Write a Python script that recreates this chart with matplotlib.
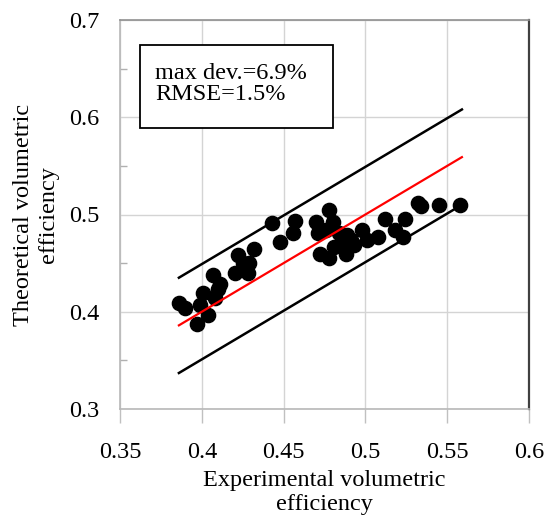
import matplotlib
matplotlib.use("Agg")
import matplotlib.pyplot as plt
import numpy as np

plt.rcParams['font.family'] = ['Liberation Serif', 'DejaVu Serif']

# experimental vs theoretical volumetric efficiency
x_exp = [0.386, 0.390, 0.397, 0.399, 0.401, 0.404, 0.407, 0.408, 0.410, 0.411,
         0.420, 0.422, 0.425, 0.428, 0.429, 0.432, 0.443, 0.448, 0.456, 0.457,
         0.470, 0.471, 0.472, 0.476, 0.478, 0.478, 0.480, 0.481, 0.484, 0.486,
         0.488, 0.489, 0.491, 0.493, 0.498, 0.501, 0.508, 0.512, 0.518, 0.524,
         0.523, 0.532, 0.534, 0.545, 0.558]
y_theo = [0.409, 0.404, 0.387, 0.407, 0.419, 0.397, 0.438, 0.414, 0.423, 0.429,
          0.440, 0.458, 0.450, 0.440, 0.450, 0.465, 0.491, 0.472, 0.481, 0.493,
          0.492, 0.481, 0.459, 0.484, 0.505, 0.455, 0.492, 0.467, 0.481, 0.470,
          0.459, 0.479, 0.474, 0.469, 0.484, 0.474, 0.477, 0.495, 0.484, 0.495,
          0.477, 0.512, 0.509, 0.510, 0.510]

line_x = [0.386, 0.559]
band = 0.049

fs = 17.5

fig = plt.figure(figsize=(5.44, 5.2), dpi=100)
ax = fig.add_axes([0.2206, 0.2135, 0.7518, 0.748])

ax.scatter(x_exp, y_theo, s=105, color='black', zorder=3)
lx = np.array(line_x)
ax.plot(lx, lx, color='red', lw=1.6, zorder=4)
ax.plot(lx, lx + band, color='black', lw=1.8, zorder=2)
ax.plot(lx, lx - band, color='black', lw=1.8, zorder=2)

ax.set_xlim(0.35, 0.6)
ax.set_ylim(0.3, 0.7)
ax.set_xticks([0.35, 0.4, 0.45, 0.5, 0.55, 0.6])
ax.set_xticklabels(['0.35', '0.4', '0.45', '0.5', '0.55', '0.6'])
ax.set_yticks([0.3, 0.4, 0.5, 0.6, 0.7])
ax.set_yticklabels(['0.3', '0.4', '0.5', '0.6', '0.7'])
ax.set_yticks([0.35, 0.45, 0.55, 0.65], minor=True)

ax.grid(True, which='major', color='#d4d4d4', lw=1.0, zorder=0)
ax.set_axisbelow(True)
ax.tick_params(axis='x', which='major', direction='out', length=10, width=1,
               color='#c0c0c0', pad=14, labelsize=fs)
ax.tick_params(axis='y', which='major', length=0, pad=15, labelsize=fs)
ax.tick_params(axis='y', which='minor', direction='in', length=5, width=1,
               color='#b0b0b0')

for side in ['left', 'bottom']:
    ax.spines[side].set_color('#b8b8b8')
    ax.spines[side].set_linewidth(1.2)
ax.spines['top'].set_color('#909090')
ax.spines['top'].set_linewidth(1.2)
ax.spines['right'].set_color('#404040')
ax.spines['right'].set_linewidth(1.6)

ax.set_xlabel("Experimental volumetric\nefficiency", fontsize=fs, labelpad=5,
              linespacing=1.2)
ax.set_ylabel("Theoretical volumetric\nefficiency", fontsize=fs, labelpad=7,
              linespacing=1.25)

ax.text(0.086, 0.835, "max dev.=6.9%\nRMSE=1.5%", transform=ax.transAxes,
        fontsize=fs, va='center', ha='left', linespacing=1.0, zorder=5)
box = plt.Rectangle((0.049, 0.722), 0.471, 0.214, transform=ax.transAxes,
                    fill=True, fc='white', ec='black', lw=1.3, zorder=4)
ax.add_patch(box)

fig.savefig("out.png", dpi=100)
